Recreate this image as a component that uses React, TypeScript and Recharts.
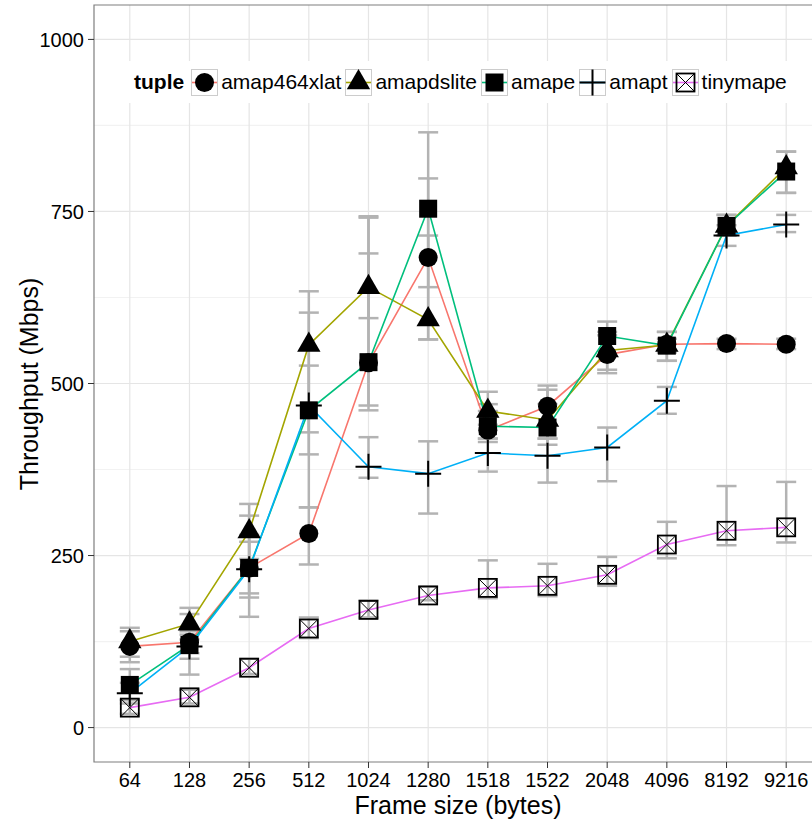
import {
  ComposedChart,
  Line,
  XAxis,
  YAxis,
  CartesianGrid,
  ErrorBar,
  Legend,
  ReferenceArea,
} from "recharts";

const FONT = '"Liberation Sans", Arial, Helvetica, sans-serif';

// frame sizes on the x axis (discrete)
const frameSizes = ["64", "128", "256", "512", "1024", "1280", "1518", "1522", "2048", "4096", "8192", "9216"];

// mean throughput per tuple (Mbps)
const amap464xlat = [118, 124, 232, 282, 530, 683, 432, 467, 542, 557, 558, 557];
const amapdslite = [125, 151, 285, 556, 640, 593, 460, 447, 548, 556, 729, 814];
const amape = [62, 120, 232, 461, 531, 754, 438, 436, 569, 555, 729, 808];
const amapt = [50, 118, 230, 468, 379, 369, 399, 395, 407, 475, 715, 731];
const tinymape = [29, 44, 87, 144, 171, 192, 203, 206, 222, 266, 286, 291];

// error bar ends (min / max)
const amap464xlatLow = [95, 108, 195, 237, 468, 564, 415, 440, 515, 545, 550, 550];
const amap464xlatHigh = [140, 135, 270, 320, 741, 798, 470, 497, 570, 565, 565, 565];
const amapdsliteLow = [103, 128, 245, 397, 595, 564, 440, 420, 520, 533, 715, 777];
const amapdsliteHigh = [145, 174, 325, 634, 689, 715, 488, 470, 575, 575, 745, 837];
const amapeLow = [40, 77, 161, 320, 461, 640, 420, 411, 540, 533, 715, 777];
const amapeHigh = [85, 165, 308, 603, 743, 865, 460, 491, 590, 575, 745, 837];
const amaptLow = [35, 100, 189, 429, 363, 311, 372, 356, 358, 456, 700, 720];
const amaptHigh = [65, 140, 280, 526, 422, 416, 420, 420, 436, 495, 730, 745];
const tinymapeLow = [20, 35, 78, 130, 160, 185, 188, 191, 206, 246, 265, 269];
const tinymapeHigh = [40, 55, 100, 160, 185, 205, 243, 238, 248, 299, 351, 357];

const yTicks = [0, 250, 500, 750, 1000];
const yMinorTicks = [125, 375, 625, 875];

type Shape = "circle" | "triangle" | "square" | "plus" | "boxx";

interface Series {
  key: string;
  name: string;
  color: string;
  shape: Shape;
  values: number[];
  low: number[];
  high: number[];
}

const series: Series[] = [
  { key: "amap464xlat", name: "amap464xlat", color: "#F8766D", shape: "circle", values: amap464xlat, low: amap464xlatLow, high: amap464xlatHigh },
  { key: "amapdslite", name: "amapdslite", color: "#A3A500", shape: "triangle", values: amapdslite, low: amapdsliteLow, high: amapdsliteHigh },
  { key: "amape", name: "amape", color: "#00BF7D", shape: "square", values: amape, low: amapeLow, high: amapeHigh },
  { key: "amapt", name: "amapt", color: "#00B0F6", shape: "plus", values: amapt, low: amaptLow, high: amaptHigh },
  { key: "tinymape", name: "tinymape", color: "#E76BF3", shape: "boxx", values: tinymape, low: tinymapeLow, high: tinymapeHigh },
];

const data = frameSizes.map((size, i) => {
  const row: Record<string, number | string | number[]> = { idx: i, size };
  series.forEach((s) => {
    row[s.key] = s.values[i];
    row[s.key + "Err"] = [s.values[i] - s.low[i], s.high[i] - s.values[i]];
  });
  return row;
});

function Marker({ shape, cx, cy }: { shape: Shape; cx: number; cy: number }) {
  switch (shape) {
    case "circle":
      return <circle cx={cx} cy={cy} r={9.5} fill="#000" />;
    case "triangle": {
      const r = 13.5;
      const pts = `${cx},${cy - r} ${cx - r * 0.866},${cy + r / 2} ${cx + r * 0.866},${cy + r / 2}`;
      return <polygon points={pts} fill="#000" />;
    }
    case "square":
      return <rect x={cx - 9} y={cy - 9} width={18} height={18} fill="#000" />;
    case "plus":
      return (
        <path
          d={`M${cx - 13},${cy}H${cx + 13}M${cx},${cy - 13}V${cy + 13}`}
          stroke="#000"
          strokeWidth={2}
          fill="none"
        />
      );
    case "boxx":
      return (
        <g fill="none" stroke="#000">
          <rect x={cx - 9} y={cy - 9} width={18} height={18} strokeWidth={1.8} />
          <path d={`M${cx - 9},${cy - 9}L${cx + 9},${cy + 9}M${cx - 9},${cy + 9}L${cx + 9},${cy - 9}`} strokeWidth={1} />
        </g>
      );
  }
}

function LegendBox() {
  return (
    <div
      style={{
        display: "flex",
        alignItems: "center",
        background: "#fff",
        height: 42,
        paddingLeft: 6,
        fontFamily: FONT,
        fontSize: 21,
        color: "#000",
        whiteSpace: "nowrap",
      }}
    >
      <span style={{ fontWeight: "bold", marginRight: 7 }}>tuple</span>
      {series.map((s) => (
        <div key={s.key} style={{ display: "flex", alignItems: "center", marginRight: 4 }}>
          <svg width={27} height={27} style={{ display: "block" }}>
            <rect x={0.5} y={0.5} width={26} height={26} fill="#fff" stroke="#CCCCCC" />
            <line x1={1} x2={26} y1={13.5} y2={13.5} stroke={s.color} strokeWidth={1.6} />
            <Marker shape={s.shape} cx={13.5} cy={13.5} />
          </svg>
          <span style={{ marginLeft: 3 }}>{s.name}</span>
        </div>
      ))}
    </div>
  );
}

export default function App() {
  return (
    <div style={{ position: "absolute", left: 0, top: 0, width: 812, height: 822, overflow: "hidden", background: "#fff" }}>
      <ComposedChart width={830} height={822} data={data} margin={{ top: 5, right: 8, bottom: 0, left: 0 }}>
        <CartesianGrid horizontalValues={yMinorTicks} vertical={false} stroke="#F2F2F2" strokeWidth={1.2} />
        <CartesianGrid
          horizontalValues={yTicks}
          verticalValues={frameSizes.map((_, i) => i)}
          stroke="#E5E5E5"
          strokeWidth={1.2}
        />
        <XAxis
          dataKey="idx"
          type="number"
          domain={[-0.6, 11.6]}
          ticks={frameSizes.map((_, i) => i)}
          tickFormatter={(i: number) => frameSizes[i]}
          allowDataOverflow
          axisLine={false}
          tickLine={{ stroke: "#333" }}
          tickSize={6}
          tickMargin={5}
          height={60}
          tick={{ fill: "#000", fontSize: 20, fontFamily: FONT }}
          label={() => (
            <text x={458} y={814} textAnchor="middle" fontSize={25} fontFamily={FONT} fill="#000">
              Frame size (bytes)
            </text>
          )}
        />
        <YAxis
          type="number"
          domain={[-50, 1050]}
          ticks={yTicks}
          allowDataOverflow
          axisLine={false}
          tickLine={{ stroke: "#333" }}
          tickSize={6}
          tickMargin={4}
          width={94}
          tick={{ fill: "#000", fontSize: 20, fontFamily: FONT }}
          label={() => (
            <text
              transform="translate(38,384) rotate(-90)"
              textAnchor="middle"
              fontSize={25}
              fontFamily={FONT}
              fill="#000"
            >
              Throughput (Mbps)
            </text>
          )}
        />

        {/* error bars underneath everything */}
        {series.map((s) => (
          <Line
            key={s.key + "-err"}
            dataKey={s.key}
            stroke="none"
            dot={false}
            activeDot={false}
            legendType="none"
            isAnimationActive={false}
            zIndex={-50}
          >
            <ErrorBar
              dataKey={s.key + "Err"}
              width={10}
              stroke="#B3B3B3"
              strokeWidth={2.5}
              direction="y"
              zIndex={-50}
            />
          </Line>
        ))}

        {series.map((s) => (
          <Line
            key={s.key + "-line"}
            dataKey={s.key}
            stroke={s.color}
            strokeWidth={1.6}
            dot={false}
            activeDot={false}
            legendType="none"
            isAnimationActive={false}
          />
        ))}

        {series.map((s) => (
          <Line
            key={s.key + "-pts"}
            dataKey={s.key}
            stroke="none"
            dot={(p: { cx: number; cy: number; index: number }) => (
              <Marker key={`${s.key}-${p.index}`} shape={s.shape} cx={p.cx} cy={p.cy} />
            )}
            activeDot={false}
            legendType="none"
            isAnimationActive={false}
          />
        ))}

        <ReferenceArea
          x1={-0.6}
          x2={11.6}
          y1={-50}
          y2={1050}
          fill="none"
          stroke="#7F7F7F"
          strokeWidth={1.2}
          ifOverflow="visible"
        />

        <Legend
          content={<LegendBox />}
          layout="horizontal"
          verticalAlign="middle"
          align="center"
          wrapperStyle={{ position: "absolute", left: 128, top: 61, width: 662 }}
        />
      </ComposedChart>
    </div>
  );
}
